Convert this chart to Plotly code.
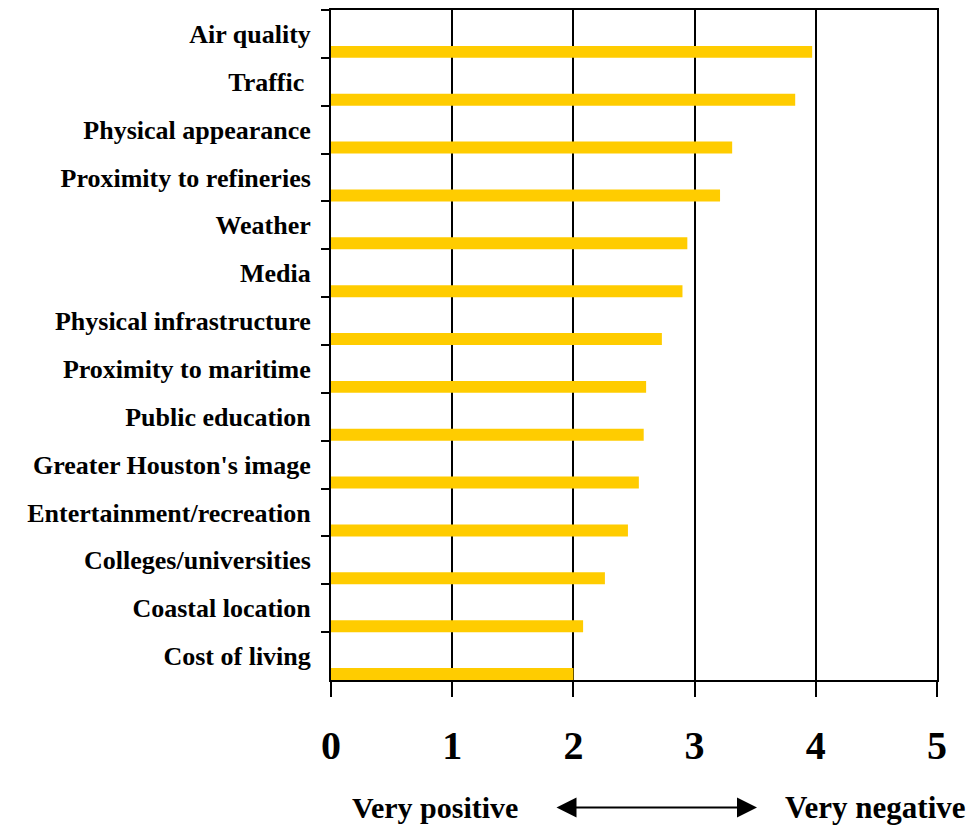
import plotly.graph_objects as go

categories = [
    "Air quality", "Traffic ", "Physical appearance", "Proximity to refineries",
    "Weather", "Media", "Physical infrastructure", "Proximity to maritime",
    "Public education", "Greater Houston's image", "Entertainment/recreation",
    "Colleges/universities", "Coastal location", "Cost of living",
]
scores = [3.97, 3.83, 3.31, 3.21, 2.94, 2.90, 2.73, 2.60, 2.58, 2.54, 2.45, 2.26, 2.08, 2.00]
x_ticks = [0, 1, 2, 3, 4, 5]
scale_left = "Very positive"
scale_right = "Very negative"

SERIF = "Times New Roman, Liberation Serif, serif"

# page body has an 8px default margin: compensate so the plot lands where the reference has it
OFF = 8
W, H = 974 - OFF, 827 - OFF
L, R, T, B = 331 - OFF, 37, 8 - OFF, 147
PW, PH = W - L - R, H - T - B

fig = go.Figure()
fig.add_trace(go.Bar(
    x=scores, y=categories, orientation="h",
    marker=dict(color="#FFCC00", line=dict(width=0)),
    width=0.25, offset=0.25,
    hoverinfo="skip",
))

fig.update_layout(
    width=W, height=H,
    margin=dict(l=L, r=R, t=T, b=B, pad=0),
    paper_bgcolor="white", plot_bgcolor="white",
    showlegend=False,
    font=dict(family=SERIF, color="black"),
)
fig.update_xaxes(
    range=[0, 5], tickvals=x_ticks, ticktext=[str(v) for v in x_ticks],
    showgrid=True, gridcolor="black", gridwidth=2,
    showline=True, linecolor="black", linewidth=2, mirror=True,
    ticks="outside", ticklen=15, tickwidth=2, tickcolor="black",
    tickfont=dict(family=SERIF, size=40, color="black", weight="bold"),
    ticklabelstandoff=14, zeroline=False,
)
fig.update_yaxes(
    type="category", categoryorder="array", categoryarray=categories,
    autorange="reversed",
    showgrid=False, zeroline=False,
    showline=True, linecolor="black", linewidth=2, mirror=True,
    ticks="outside", ticklen=8, tickwidth=2, tickcolor="black",
    tickson="boundaries",
    tickfont=dict(family=SERIF, size=26, color="black", weight="bold"),
    ticklabelstandoff=13,
)

ylab = -(808 - 680) / PH
fig.add_annotation(xref="paper", yref="paper", x=(435 - 331) / PW, y=ylab,
                   xanchor="center", yanchor="middle",
                   text=scale_left, showarrow=False,
                   font=dict(family=SERIF, size=30, color="black", weight="bold"))
fig.add_annotation(xref="paper", yref="paper", x=(875 - 331) / PW, y=ylab,
                   xanchor="center", yanchor="middle",
                   text=scale_right, showarrow=False,
                   font=dict(family=SERIF, size=31, color="black", weight="bold"))
fig.add_annotation(xref="paper", yref="paper", x=(757 - 331) / PW, y=ylab,
                   ax=-(757 - 555), ay=0, text="", showarrow=True,
                   arrowhead=2, arrowside="end+start", arrowsize=2, arrowwidth=2,
                   arrowcolor="black")

fig.write_html("out.html")
